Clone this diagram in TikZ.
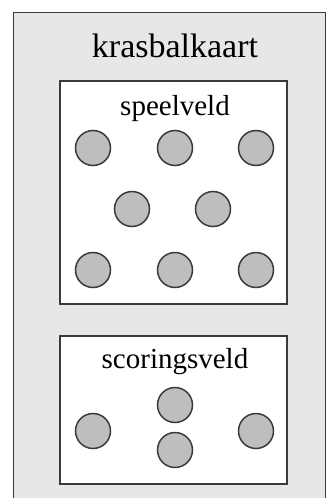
\documentclass[tikz,border=0pt]{standalone}
\usepackage{fontspec}
\setmainfont{Liberation Serif}
\usepackage{tikz}
\usepackage{xcolor}
\definecolor{card-grey}{HTML}{E6E7E8}
\definecolor{ball-grey}{HTML}{BCBEC0}
\definecolor{line-grey}{HTML}{3A3A3A}
\tikzset{
    card-box/.style = {draw=line-grey, fill=card-grey, line width=1pt},
    field-box/.style = {draw=line-grey, fill=white, line width=1.3pt, rectangle, minimum width=227pt, inner sep=0pt},
    field-title/.style = {anchor=base, inner sep=0pt, font=\fontsize{29}{34}\selectfont},
    ball/.style = {draw=line-grey, fill=ball-grey, line width=1.5pt, circle, minimum size=35pt, inner sep=0pt},
}

\begin{document}
\begin{tikzpicture}[x=1pt, y=-1pt]
\useasboundingbox (0,0) rectangle (326,498);
\clip (0,0) rectangle (326,498);
\fill[white] (0,0) rectangle (326,498);
\draw[card-box] (13,12) rectangle (325.5,515);
\node[field-title, font=\fontsize{34}{40}\selectfont] (card-title) at (175,57) {krasbalkaart};

% speelveld
\node[field-box, minimum height=223pt] (play-field) at (173.5,192.5) {};
\node[field-title] (play-title) at (175,115) {speelveld};
\node[ball] (p1) at (93,148) {};
\node[ball] (p2) at (175,148) {};
\node[ball] (p3) at (256,148) {};
\node[ball] (p4) at (132,209) {};
\node[ball] (p5) at (213,209) {};
\node[ball] (p6) at (93,270) {};
\node[ball] (p7) at (175,270) {};
\node[ball] (p8) at (256,270) {};

% scoringsveld
\node[field-box, minimum height=148pt] (score-field) at (173.5,410) {};
\node[field-title] (score-title) at (175,368) {scoringsveld};
\node[ball] (s1) at (93,431) {};
\node[ball] (s2) at (175,405) {};
\node[ball] (s3) at (175,450) {};
\node[ball] (s4) at (256,431) {};
\end{tikzpicture}
\end{document}
